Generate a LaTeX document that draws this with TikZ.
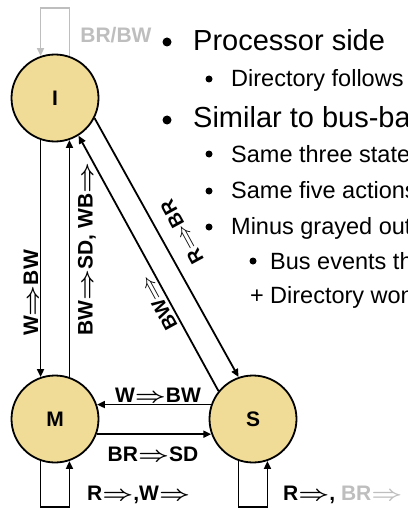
\documentclass[tikz,border=0pt]{standalone}
\usepackage{fontspec}
\setmainfont{Liberation Sans}
\usetikzlibrary{arrows.meta}
\definecolor{stfill}{RGB}{240,220,150}
\definecolor{grayed}{RGB}{190,190,190}
\newcommand\imp{\scalebox{1.3}[1]{$\Rightarrow$}}
\newcommand\bimp{\scalebox{1.3}[1]{\boldmath$\Rightarrow$}}
\begin{document}
\begin{tikzpicture}[x=1pt,y=-1pt,
 state/.style={circle,draw,line width=1.8pt,fill=stfill,minimum size=87pt,inner sep=0pt,font=\fontsize{21}{24}\selectfont\bfseries},
 conn/.style={line width=1.8pt,-{Triangle[length=8pt,width=7pt]}},
 lbl/.style={font=\fontsize{21}{24}\selectfont\bfseries,inner sep=0pt},
 dlbl/.style={font=\fontsize{19.5}{22}\selectfont\bfseries,inner sep=0pt},
 big/.style={font=\fontsize{29}{32}\selectfont,anchor=base west,inner sep=0pt},
 mid/.style={font=\fontsize{23.5}{26}\selectfont,anchor=base west,inner sep=0pt},
 dotbig/.style={circle,fill,inner sep=0pt,minimum size=9pt},
 dotsmall/.style={circle,fill,inner sep=0pt,minimum size=7pt},
]
\useasboundingbox (0,0) rectangle (407,508);
\clip (0,0) rectangle (407,508);

\node[state] (I) at (55,98) {I};
\node[state] (M) at (55,419) {M};
\node[state] (S) at (253,419) {S};

\coordinate (Itop) at (55,8);
\coordinate (Mbot) at (55,507);
\coordinate (Sbot) at (253,507);

\draw[conn,grayed] (I.71) |- (Itop) -| (I.109);
\draw[conn] (I.251) -- (M.109);
\draw[conn] (M.71) -- (I.289);
\draw[conn] (M.251) |- (Mbot) -| (M.289);
\draw[conn] (S.251) |- (Sbot) -| (S.289);
\draw[conn] (S.161) -- (M.19);
\draw[conn] (M.-20) -- (S.200);
\draw[conn] (I.-27) -- (S.109);
\draw[conn] (S.141) -- (I.-58);

\node[lbl,text=grayed] (lbrbw) at (116,35) {BR/BW};
\node[lbl,rotate=90] (l1) at (31,293) {W\bimp BW};
\node[lbl,rotate=90] (l2) at (87,249) {BW\bimp SD, WB\bimp};
\node[dlbl,rotate=118.6] (l3) at (182,232) {R\imp BR};
\node[dlbl,rotate=118.6] (l4) at (158,303) {BW\imp};
\node[lbl] (l5) at (158,395) {W\bimp BW};
\node[lbl] (l6) at (153,454) {BR\bimp SD};
\node[lbl,anchor=west] (l7) at (87,495) {R\bimp,W\bimp};
\node[lbl,anchor=west] (l8) at (283,495) {R\bimp, \textcolor{grayed}{BR\bimp}};

\node[dotbig] (b1) at (167,42) {};
\node[big] (t1) at (193,51) {Processor side};
\node[dotsmall] (b2) at (209,79) {};
\node[mid] (t2) at (231,87) {Directory follows its own protocol};
\node[dotbig] (b3) at (167,120) {};
\node[big] (t3) at (193,128) {Similar to bus-based SI};
\node[dotsmall] (b4) at (209,154) {};
\node[mid] (t4) at (231,162) {Same three states};
\node[dotsmall] (b5) at (209,191) {};
\node[mid] (t5) at (231,198) {Same five actions (keep BR/BW names)};
\node[dotsmall] (b6) at (209,227) {};
\node[mid] (t6) at (231,234) {Minus grayed out arcs/actions};
\node[dotsmall] (b7) at (253,261) {};
\node[mid] (t7) at (270,269) {Bus events that would not trigger action anyway};
\node[mid,anchor=base east] (plus) at (264,303) {+};
\node[mid] (t8) at (270,303) {Directory won't bother you unless you need to act};
\end{tikzpicture}
\end{document}
